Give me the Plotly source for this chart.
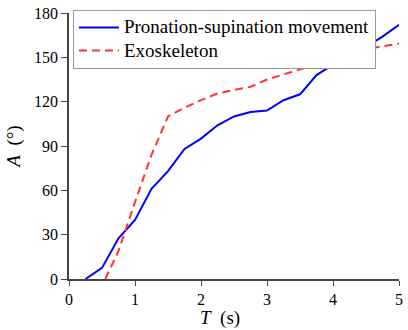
import plotly.graph_objects as go

# Data
t_pron = [0.25, 0.5, 0.75, 1.0, 1.25, 1.5, 1.75, 2.0, 2.25, 2.5, 2.75, 3.0,
          3.25, 3.5, 3.75, 4.0, 4.25, 4.5, 4.75, 5.0]
a_pron = [0, 7.5, 27.5, 40, 61, 73, 88, 95, 104, 110, 113, 114,
          121, 125, 138, 145, 151, 157, 164, 172]

t_exo = [0.55, 0.75, 1.0, 1.25, 1.5, 1.75, 2.0, 2.25, 2.5, 2.75, 3.0,
         3.25, 3.5, 3.75, 4.0, 4.25, 4.5, 4.75, 5.0]
a_exo = [0, 19, 52, 84, 110, 116, 121, 125.5, 128, 130, 135,
         138.5, 141.5, 145, 149, 152, 155.5, 157.5, 159.3]

x_ticks = [0, 1, 2, 3, 4, 5]
y_ticks = [0, 30, 60, 90, 120, 150, 180]

FONT = "Liberation Serif"


def big(s):
    return "<span style='font-size:19px'>" + s + "</span>"


fig = go.Figure()
fig.add_trace(go.Scatter(x=t_pron, y=a_pron, mode="lines",
                         name=big("Pronation-supination movement"),
                         line=dict(color="#0000ff", width=2)))
fig.add_trace(go.Scatter(x=t_exo, y=a_exo, mode="lines",
                         name=big("Exoskeleton"),
                         line=dict(color="#ff3333", width=2, dash="8px,5px")))

fig.update_layout(
    width=408, height=330,
    margin=dict(l=69, r=5, t=9, b=51),
    paper_bgcolor="white", plot_bgcolor="white",
    font=dict(family=FONT, size=16, color="black"),
    showlegend=True,
    legend=dict(x=0.012, y=1.012, xanchor="left", yanchor="top",
                bgcolor="white", bordercolor="#999999", borderwidth=1,
                font=dict(family=FONT, size=15.5, color="black"),
                itemwidth=40, tracegroupgap=0),
    xaxis=dict(range=[0, 5], tickvals=x_ticks, showgrid=False, zeroline=False,
               showline=True, linecolor="#444444", linewidth=1.5,
               tickfont=dict(family=FONT, size=16, color="black"),
               ticks="outside", ticklen=5, tickwidth=1.2, tickcolor="#444444"),
    yaxis=dict(range=[0, 180], tickvals=y_ticks, showgrid=False, zeroline=False,
               showline=True, linecolor="#444444", linewidth=1.5,
               tickfont=dict(family=FONT, size=16, color="black"),
               ticks="outside", ticklen=6, tickwidth=1.2, tickcolor="#444444",
               title=dict(text="<i>A</i>&nbsp; (°)", font=dict(family=FONT, size=19), standoff=8)),
    annotations=[dict(text="<i>T</i>&nbsp; (s)", xref="paper", yref="paper",
                      x=0.458, y=-0.146, xanchor="center", yanchor="middle",
                      showarrow=False, font=dict(family=FONT, size=19, color="black"))],
)

fig.write_html("out.html", post_script="document.body.style.margin='0';",
               config={"displayModeBar": False})
